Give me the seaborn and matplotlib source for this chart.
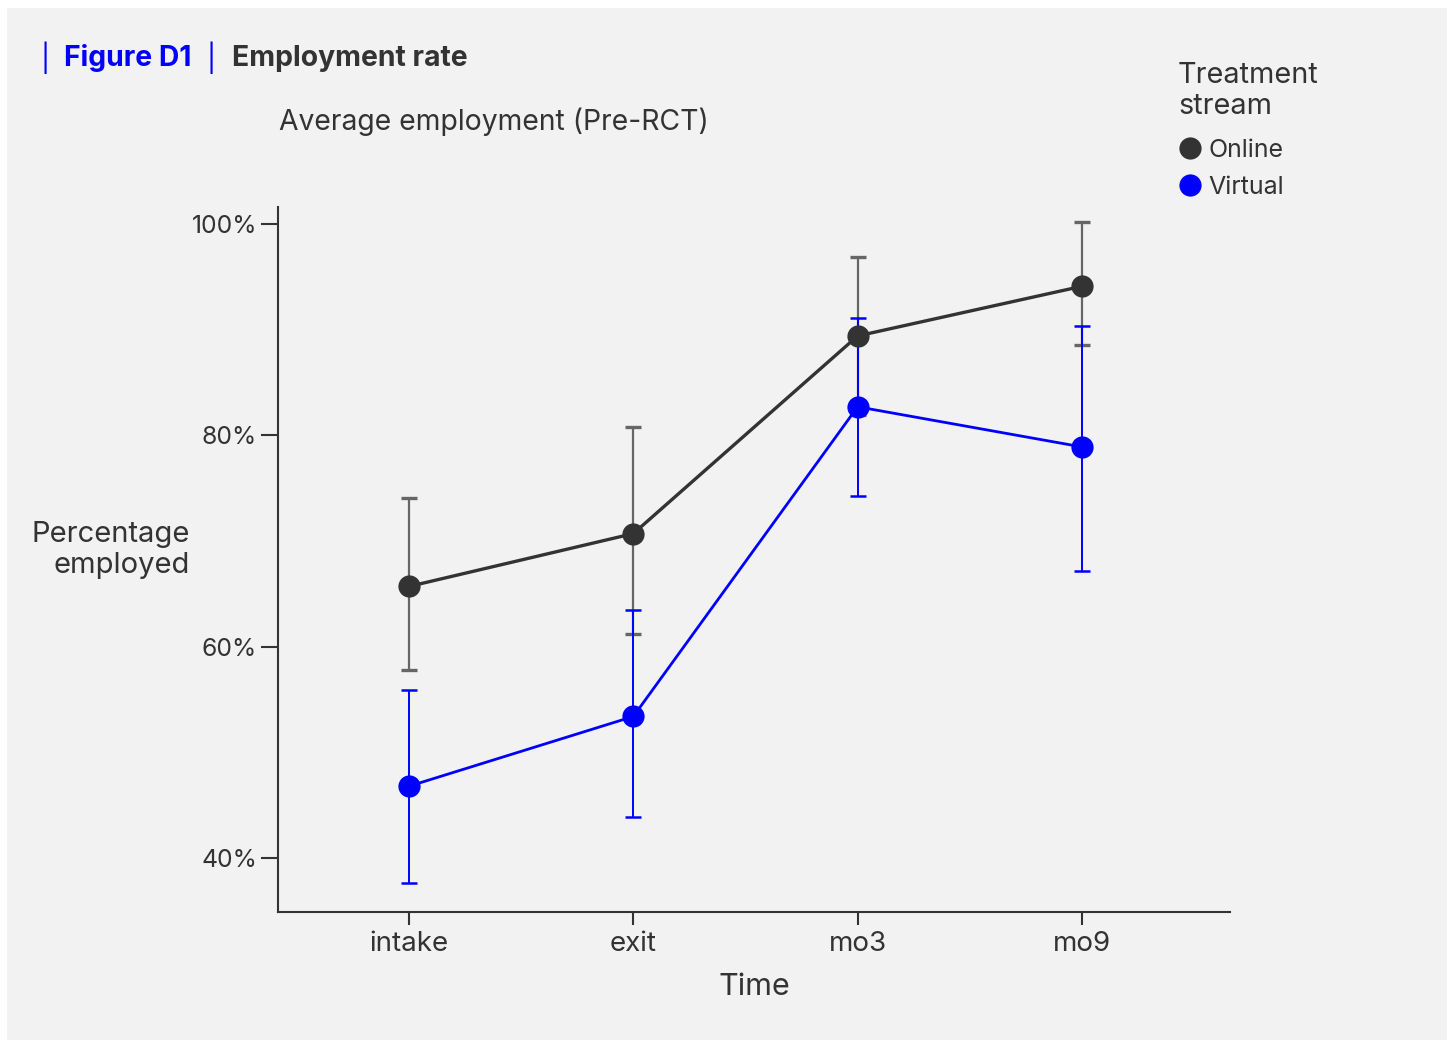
import matplotlib
matplotlib.use("Agg")
import matplotlib.pyplot as plt
import matplotlib.patches as mpatches
from matplotlib.lines import Line2D
import numpy as np
import pandas as pd
import seaborn as sns

# Employment rate by time point and treatment stream (percent)
times = ["intake", "exit", "mo3", "mo9"]
online_mean = [65.7, 70.7, 89.4, 94.1]
online_low = [57.8, 61.2, 81.9, 88.5]
online_high = [74.1, 80.8, 96.9, 100.2]
virtual_mean = [46.8, 53.4, 82.7, 78.9]
virtual_low = [37.6, 43.9, 74.3, 67.2]
virtual_high = [55.9, 63.5, 91.1, 90.3]
streams = ["Online", "Virtual"]
colors = {"Online": "#333333", "Virtual": "#0000ff"}

df = pd.DataFrame({
    "Time": times * 2,
    "rate": online_mean + virtual_mean,
    "stream": ["Online"] * 4 + ["Virtual"] * 4,
})

sns.set_theme(style="ticks")
plt.rcParams["font.family"] = ["Inter", "DejaVu Sans"]
BG = "#f2f2f2"
TXT = "#333333"
W, H = 1452, 1040

fig = plt.figure(figsize=(W / 100, H / 100), dpi=100, facecolor="white")
fig.patches.append(mpatches.Rectangle((7 / W, 0), 1440 / W, 1 - 8 / H,
                                      transform=fig.transFigure, facecolor=BG,
                                      edgecolor="none", zorder=-10))
ax = fig.add_axes([278 / W, 1 - 912 / H, (1230 - 278) / W, (912 - 207) / H])
ax.set_facecolor(BG)

x = np.arange(len(times))
# confidence intervals
eb_on = ax.errorbar(x, online_mean,
                    yerr=[np.subtract(online_mean, online_low), np.subtract(online_high, online_mean)],
                    fmt="none", ecolor="#666666", elinewidth=1.6, capsize=6, capthick=2.4, zorder=1)
for cap in eb_on[1]:
    cap.set_color(TXT)
ax.errorbar(x, virtual_mean,
            yerr=[np.subtract(virtual_mean, virtual_low), np.subtract(virtual_high, virtual_mean)],
            fmt="none", ecolor="#0000ff", elinewidth=1.4, capsize=6, capthick=1.8, zorder=1)

sns.lineplot(data=df, x="Time", y="rate", hue="stream", palette=colors,
             marker="o", markersize=16, markeredgewidth=0, linewidth=2.0,
             legend=False, ax=ax, zorder=3, sort=False)
ax.lines[-2].set_linewidth(2.4)

ax.set_xlim(-0.584, 3.66)
ax.set_ylim(34.9, 101.6)
ax.set_yticks([40, 60, 80, 100])
ax.set_yticklabels(["40%", "60%", "80%", "100%"])
ax.set_xticks(x)
ax.set_xticklabels(times)

for s in ["top", "right"]:
    ax.spines[s].set_visible(False)
for s in ["left", "bottom"]:
    ax.spines[s].set_color(TXT)
    ax.spines[s].set_linewidth(1.5)
ax.tick_params(axis="y", length=12, width=1.5, color=TXT, labelsize=17.8, labelcolor=TXT, pad=3)
ax.tick_params(axis="x", length=9, width=1.5, color=TXT, labelsize=20, labelcolor=TXT, pad=5)

ax.set_xlabel("Time", fontsize=22, color=TXT, labelpad=11)
ax.set_ylabel("")
fig.text(190 / W, 1 - 550 / H, "Percentage\nemployed", ha="right", va="center",
         fontsize=21, color=TXT, linespacing=1.22)

# headings
fy = 1 - 58 / H
fig.text(41 / W, fy, "|", fontsize=20, color="#0000ff", va="center")
fig.text(64 / W, fy, "Figure D1", fontsize=20.4, fontweight="bold", color="#0000ff", va="center")
fig.text(207 / W, fy, "|", fontsize=20, color="#0000ff", va="center")
fig.text(232 / W, fy, "Employment rate", fontsize=20.4, fontweight="bold", color=TXT, va="center")
fig.text(279 / W, 1 - 122 / H, "Average employment (Pre-RCT)", fontsize=20.4,
         color=TXT, va="center")

# legend
fig.text(1178 / W, 1 - 91 / H, "Treatment\nstream", fontsize=20.8, color=TXT,
         va="center", ha="left", linespacing=1.22)
handles = [Line2D([], [], linestyle="none", marker="o", markersize=16,
                  markerfacecolor=colors[s], markeredgewidth=0) for s in streams]
leg = fig.legend(handles, streams, loc="upper left",
                 bbox_to_anchor=(1180 / W, 1 - 139 / H), frameon=False,
                 fontsize=18, handlelength=0.8, handletextpad=0.35,
                 labelspacing=0.56, borderaxespad=0, borderpad=0)
for t in leg.get_texts():
    t.set_color(TXT)

fig.savefig("out.png", dpi=100, facecolor="white")
